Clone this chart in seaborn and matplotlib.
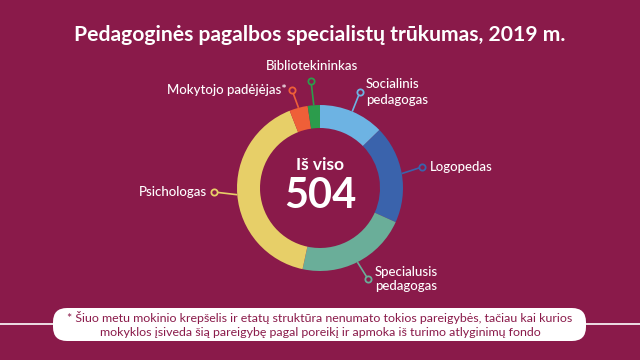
import numpy as np
import matplotlib
matplotlib.use("Agg")
import matplotlib.pyplot as plt
from matplotlib.patches import FancyBboxPatch
import seaborn as sns

# ---- data ----
categories = ["Socialinis\npedagogas", "Logopedas", "Specialusis\npedagogas",
              "Psichologas", "Mokytojo padėjėjas*", "Bibliotekininkas"]
values = [64, 96, 109, 205, 18, 12]
total_label = "Iš viso"
title = "Pedagoginės pagalbos specialistų trūkumas, 2019 m."
footnote = ("* Šiuo metu mokinio krepšelis ir etatų struktūra nenumato tokios pareigybės, tačiau kai kurios\n"
            "mokyklos įsiveda šią pareigybę pagal poreikį ir apmoka iš turimo atlyginimų fondo")

# ---- style ----
sns.set_theme(style="white")
plt.rcParams['font.family'] = ['Lato', 'DejaVu Sans']
BG = "#8A1A4A"
colors = ["#6DB3E3", "#3A63AC", "#6AAE99", "#E7CF68", "#EF5F38", "#2C9C4C"]

W, H = 640, 360
fig = plt.figure(figsize=(6.4, 3.6), dpi=100, facecolor=BG)
ax = fig.add_axes([0, 0, 1, 1])
ax.set_facecolor(BG)

def Y(y_top):
    return H - y_top

cx, cy = 320, Y(188)
R, r_in = 83, 60

ax.pie(values, colors=colors, startangle=90, counterclock=False,
       radius=R, center=(cx, cy),
       wedgeprops=dict(width=R - r_in, edgecolor="none", linewidth=0))
ax.set_xlim(0, W)
ax.set_ylim(0, H)
ax.set_aspect("auto")
ax.axis("off")

# leader lines: endpoints relative to center (pixels, x right, y up) and text placement
ends = [(40, 96), (102, 21), (48, -91), (-106, -4), (-28, 98), (-9, 107)]
tpos = [((6, 0), "left", "center"), ((8, 0), "left", "center"),
        ((7, 0), "left", "center"), ((-7, 0), "right", "center"),
        ((-5, 0), "right", "center"), ((1, 9), "center", "bottom")]
tot = sum(values)
cum = 0
for v, lab, col, (ex, ey), ((tx, ty), ha, va) in zip(values, categories, colors, ends, tpos):
    mid = np.deg2rad(90 - (cum + v / 2) / tot * 360)
    cum += v
    ax0, ay0 = cx + R * np.cos(mid), cy + R * np.sin(mid)
    px, py = cx + ex, cy + ey
    ax.plot([ax0, px], [ay0, py], color=col, lw=1.2, solid_capstyle="butt", zorder=3)
    ax.plot(px, py, marker="o", ms=4.5, mfc=BG, mec=col, mew=1.3, zorder=4)
    ax.text(px + tx, py + ty, lab, color="white", fontsize=9.5, ha=ha, va=va,
            linespacing=1.3, fontweight="medium")

# center text
ax.text(cx, Y(165), total_label, color="white", fontsize=12.5, fontweight="bold",
        ha="center", va="center")
ax.text(cx, Y(196), f"{tot}", color="white", fontsize=30, fontweight="bold",
        ha="center", va="center")

# title
ax.text(W / 2, Y(35), title, color="white", fontsize=15.2, fontweight="bold",
        ha="center", va="center")

# footnote band
ax.plot([0, W], [Y(324), Y(324)], color="white", lw=1.2, zorder=1)
box = FancyBboxPatch((53, Y(341)), 533, 33,
                     boxstyle="round,pad=0,rounding_size=14",
                     fc="white", ec="none", zorder=2)
ax.add_patch(box)
ax.text(W / 2, Y(324.5), footnote, color=BG, fontsize=8.9, ha="center", va="center",
        linespacing=1.3, zorder=3)

fig.savefig("out.png", dpi=100, facecolor=BG)
